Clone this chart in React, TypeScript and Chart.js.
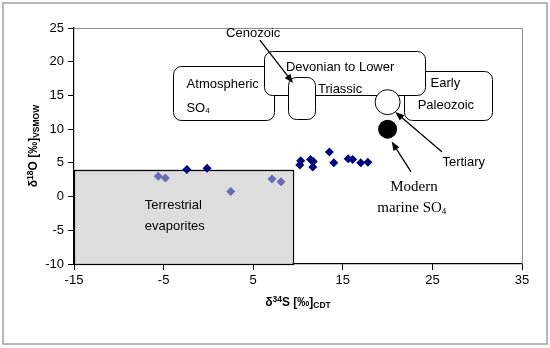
import React, { useEffect, useRef } from "react";
import { Chart, registerables } from "chart.js";
Chart.register(...registerables);

// ---- data ----
const terrestrialX = [-5.6, -4.8, 2.5, 7.1, 8.1];
const terrestrialY = [3.0, 2.75, 0.75, 2.6, 2.2];
const marineX = [-2.4, -0.15, 10.3, 10.2, 11.4, 11.7, 11.65, 13.5, 14.0, 15.6, 16.1, 17.0, 17.8];
const marineY = [4.0, 4.2, 5.3, 4.7, 5.5, 5.2, 4.4, 6.6, 5.0, 5.6, 5.5, 5.0, 5.1];
const tertiaryXY = [20, 14];
const modernXY = [20, 10];

const xMin = -15, xMax = 35, xStep = 10;
const yMin = -10, yMax = 25, yStep = 5;

// region boxes in data units: [x0, x1, y0, y1]
const terrestrialBox = [-15, 9.4, -10, 4];
const atmosphericBox = [-4, 7.35, 11.35, 19.4];
const earlyPaleozoicBox = [21.85, 31.7, 11.35, 18.65];
const devonianBox = [6.25, 24.15, 15.05, 21.6];
const cenozoicBox = [8.9, 11.95, 11.5, 17.7];

// labels
const labelTexts = ["Cenozoic", "Devonian to Lower", "Triassic", "Atmospheric", "SO", "Early", "Paleozoic", "Tertiary", "Terrestrial", "evaporites", "Modern", "marine SO"];
const labelX = [5.0, 14.7, 14.7, 1.6, -2.45, 26.45, 26.5, 28.5, -7.1, -7.1, 22.95, 22.7];
const labelY = [24.2, 19.1, 15.95, 16.65, 13.1, 16.8, 13.45, 5.1, -1.25, -4.45, 1.35, -1.75];
const labelAlign = ["center", "center", "center", "center", "left", "center", "center", "center", "left", "left", "center", "center"];
const labelSerif = [false, false, false, false, false, false, false, false, false, false, true, true];
const labelSub = ["", "", "", "", "4", "", "", "", "", "", "", "4"];

// arrows: from (x0,y0) to (x1,y1)
const arrowFromX = [5.75, 26.05, 22.6];
const arrowFromY = [23.2, 6.65, 3.7];
const arrowToX = [9.45, 20.85, 20.45];
const arrowToY = [16.85, 12.55, 8.15];

function drawRich(ctx: CanvasRenderingContext2D, parts: { t: string; font: string; dy: number }[], x: number, y: number, align: string) {
  let total = 0;
  for (const p of parts) { ctx.font = p.font; total += ctx.measureText(p.t).width; }
  let cx = align === "center" ? x - total / 2 : align === "right" ? x - total : x;
  ctx.textAlign = "left";
  ctx.textBaseline = "middle";
  for (const p of parts) {
    ctx.font = p.font;
    ctx.fillText(p.t, cx, y + p.dy);
    cx += ctx.measureText(p.t).width;
  }
}

const annotPlugin = {
  id: "annot",
  beforeDatasetsDraw(chart: any) {
    const { ctx, scales, chartArea } = chart;
    const xs = scales.x, ys = scales.y;
    ctx.save();
    ctx.strokeStyle = "#8c8c8c";
    ctx.lineWidth = 1;
    ctx.beginPath();
    ctx.moveTo(chartArea.left, Math.round(chartArea.top) + 0.5);
    ctx.lineTo(Math.round(chartArea.right) + 0.5, Math.round(chartArea.top) + 0.5);
    ctx.lineTo(Math.round(chartArea.right) + 0.5, chartArea.bottom);
    ctx.stroke();

    const tx0 = xs.getPixelForValue(terrestrialBox[0]);
    const tx1 = xs.getPixelForValue(terrestrialBox[1]);
    const ty0 = ys.getPixelForValue(terrestrialBox[3]);
    const ty1 = ys.getPixelForValue(terrestrialBox[2]);
    ctx.fillStyle = "#dddddd";
    ctx.fillRect(tx0, ty0, tx1 - tx0, ty1 - ty0);
    ctx.strokeStyle = "#000";
    ctx.lineWidth = 1.2;
    ctx.strokeRect(Math.round(tx0) + 0.5, Math.round(ty0) + 0.5, Math.round(tx1 - tx0), Math.round(ty1 - ty0));

    const boxes = [atmosphericBox, earlyPaleozoicBox, devonianBox, cenozoicBox];
    for (const b of boxes) {
      const x0 = Math.round(xs.getPixelForValue(b[0])) + 0.5;
      const x1 = Math.round(xs.getPixelForValue(b[1])) + 0.5;
      const y0 = Math.round(ys.getPixelForValue(b[3])) + 0.5;
      const y1 = Math.round(ys.getPixelForValue(b[2])) + 0.5;
      ctx.beginPath();
      ctx.roundRect(x0, y0, x1 - x0, y1 - y0, 8);
      ctx.fillStyle = "#fff";
      ctx.fill();
      ctx.strokeStyle = "#000";
      ctx.lineWidth = 1;
      ctx.stroke();
    }
    ctx.restore();
  },
  afterDatasetsDraw(chart: any) {
    const { ctx, scales } = chart;
    const xs = scales.x, ys = scales.y;
    ctx.save();
    ctx.strokeStyle = "#000";
    ctx.fillStyle = "#000";
    ctx.lineWidth = 1.3;
    for (let i = 0; i < arrowFromX.length; i++) {
      const ax0 = xs.getPixelForValue(arrowFromX[i]);
      const ay0 = ys.getPixelForValue(arrowFromY[i]);
      const ax1 = xs.getPixelForValue(arrowToX[i]);
      const ay1 = ys.getPixelForValue(arrowToY[i]);
      const ang = Math.atan2(ay1 - ay0, ax1 - ax0);
      const hl = 9, hw = 3.5;
      const bx = ax1 - hl * Math.cos(ang), by = ay1 - hl * Math.sin(ang);
      ctx.beginPath();
      ctx.moveTo(ax0, ay0);
      ctx.lineTo(bx, by);
      ctx.stroke();
      ctx.beginPath();
      ctx.moveTo(ax1, ay1);
      ctx.lineTo(bx + hw * Math.sin(ang), by - hw * Math.cos(ang));
      ctx.lineTo(bx - hw * Math.sin(ang), by + hw * Math.cos(ang));
      ctx.closePath();
      ctx.fill();
    }
    for (let i = 0; i < labelTexts.length; i++) {
      const px = xs.getPixelForValue(labelX[i]);
      const py = ys.getPixelForValue(labelY[i]);
      const fam = labelSerif[i] ? "'Liberation Serif', serif" : "'Liberation Sans', Arial, sans-serif";
      const size = labelSerif[i] ? 15 : 13;
      const parts = [{ t: labelTexts[i], font: `${size}px ${fam}`, dy: 0 }];
      if (labelSub[i]) parts.push({ t: labelSub[i], font: `${Math.round(size * 0.62)}px ${fam}`, dy: 3 });
      ctx.fillStyle = "#000";
      drawRich(ctx, parts, px, py, labelAlign[i]);
    }
    ctx.restore();
  },
  afterDraw(chart: any) {
    const { ctx, chartArea } = chart;
    ctx.save();
    ctx.fillStyle = "#000";
    const big = "bold 12px 'Liberation Sans', Arial, sans-serif";
    const small = "bold 8.5px 'Liberation Sans', Arial, sans-serif";
    drawRich(ctx, [
      { t: "δ", font: big, dy: 0 },
      { t: "34", font: small, dy: -3.5 },
      { t: "S [‰]", font: big, dy: 0 },
      { t: "CDT", font: small, dy: 3 },
    ], (chartArea.left + chartArea.right) / 2, 303, "center");
    ctx.translate(34, (chartArea.top + chartArea.bottom) / 2);
    ctx.rotate(-Math.PI / 2);
    drawRich(ctx, [
      { t: "δ", font: big, dy: 0 },
      { t: "18", font: small, dy: -3.5 },
      { t: "O [‰]", font: big, dy: 0 },
      { t: "VSMOW", font: small, dy: 3 },
    ], 0, 0, "center");
    ctx.restore();
    ctx.save();
    ctx.strokeStyle = "#a0a0a0";
    ctx.lineWidth = 1.5;
    ctx.strokeRect(3, 3, 544, 341);
    ctx.restore();
  },
};

export default function App() {
  const ref = useRef<HTMLCanvasElement | null>(null);
  useEffect(() => {
    document.body.style.margin = "0";
    const canvas = ref.current!;
    const tickFont = { family: "'Liberation Sans', Arial, sans-serif", size: 13 };
    const chart = new Chart(canvas, {
      type: "scatter",
      data: {
        datasets: [
          {
            label: "terrestrial",
            data: terrestrialX.map((v, i) => ({ x: v, y: terrestrialY[i] })),
            pointStyle: "rectRot",
            pointRadius: 4.5,
            backgroundColor: "#6b6bb4",
            borderColor: "#6b6bb4",
            borderWidth: 0,
          },
          {
            label: "marine",
            data: marineX.map((v, i) => ({ x: v, y: marineY[i] })),
            pointStyle: "rectRot",
            pointRadius: 4.5,
            backgroundColor: "#000080",
            borderColor: "#000080",
            borderWidth: 0,
          },
          {
            label: "Tertiary",
            data: [{ x: tertiaryXY[0], y: tertiaryXY[1] }],
            pointStyle: "circle",
            pointRadius: 12.5,
            backgroundColor: "#fff",
            borderColor: "#000",
            borderWidth: 1,
          },
          {
            label: "Modern marine SO4",
            data: [{ x: modernXY[0], y: modernXY[1] }],
            pointStyle: "circle",
            pointRadius: 9.5,
            backgroundColor: "#000",
            borderColor: "#000",
            borderWidth: 0,
          },
        ],
      },
      options: {
        responsive: false,
        animation: false,
        layout: { padding: { left: 0, top: 28, right: 28, bottom: 0 } },
        plugins: { legend: { display: false }, tooltip: { enabled: false } },
        scales: {
          x: {
            type: "linear",
            min: xMin,
            max: xMax,
            afterFit: (s: any) => { s.height = 84; },
            afterBuildTicks: (s: any) => {
              const t = [];
              for (let v = xMin; v <= xMax; v += xStep) t.push({ value: v });
              s.ticks = t;
            },
            ticks: { color: "#000", font: tickFont, padding: 3, maxRotation: 0 },
            grid: { drawOnChartArea: false, drawTicks: true, tickLength: 6, color: "#000" },
            border: { display: true, color: "#000", width: 1.2 },
          },
          y: {
            type: "linear",
            min: yMin,
            max: yMax,
            afterFit: (s: any) => { s.width = 74; },
            afterBuildTicks: (s: any) => {
              const t = [];
              for (let v = yMin; v <= yMax; v += yStep) t.push({ value: v });
              s.ticks = t;
            },
            ticks: { color: "#000", font: tickFont, padding: 4 },
            grid: { drawOnChartArea: false, drawTicks: true, tickLength: 6, color: "#000" },
            border: { display: true, color: "#000", width: 1.2 },
          },
        },
      },
      plugins: [annotPlugin],
    } as any);
    return () => chart.destroy();
  }, []);
  return (
    <div style={{ width: 550, height: 348 }}>
      <canvas ref={ref} width={550} height={348} style={{ display: "block" }} />
    </div>
  );
}
